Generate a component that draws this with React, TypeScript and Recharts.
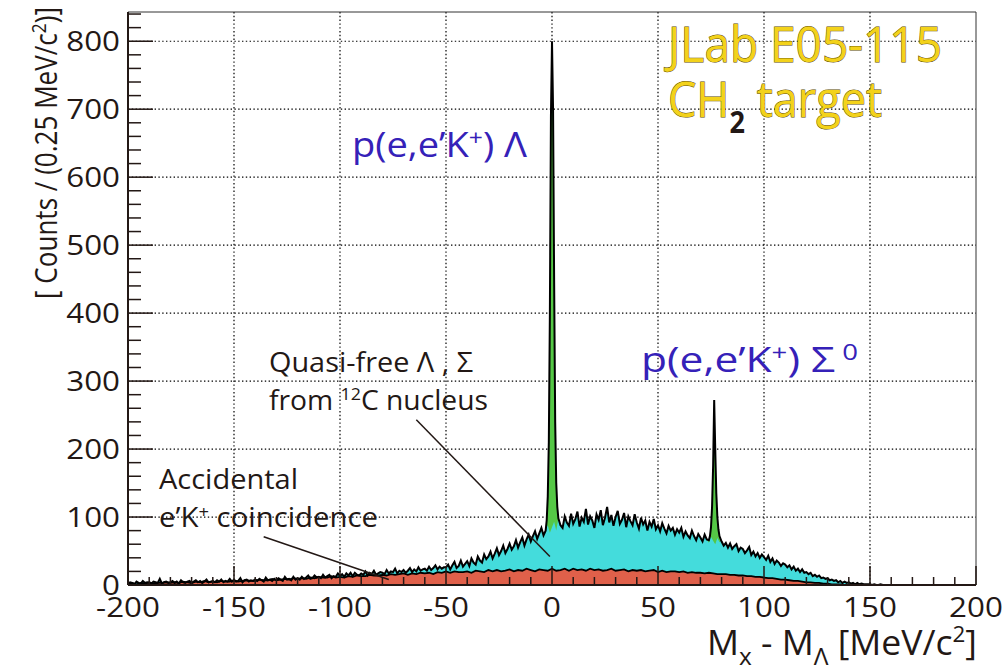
import { ComposedChart, Area, Line, XAxis, YAxis, CartesianGrid, ReferenceLine, ReferenceArea } from "recharts";

// missing-mass histogram, CH2 target
const BIN_START = -200;
const TOTAL_STEP = 1;
const ACC_STEP = 2;

// total counts outside the two hyperon peaks, -200 .. 160 in 1 MeV steps
const continuumCounts = [
  2, 4, 3, 1, 5, 3, 2, 6, 3, 4,
  3, 2, 5, 4, 3, 9, 2, 4, 5, 3,
  4, 6, 3, 5, 2, 7, 4, 3, 5, 6,
  3, 5, 7, 4, 6, 3, 5, 8, 4, 5,
  6, 4, 7, 5, 8, 4, 6, 5, 9, 5,
  7, 5, 6, 10, 4, 7, 8, 5, 7, 6,
  8, 6, 9, 7, 5, 11, 7, 8, 6, 9,
  7, 10, 8, 6, 12, 8, 9, 7, 12, 8,
  10, 8, 12, 9, 11, 14, 9, 10, 14, 11,
  12, 10, 15, 11, 13, 15, 10, 13, 12, 17,
  13, 16, 12, 17, 14, 18, 13, 18, 15, 14,
  17, 15, 20, 14, 18, 16, 21, 15, 17, 19,
  18, 16, 22, 17, 20, 19, 24, 17, 21, 19,
  22, 18, 21, 25, 19, 23, 20, 26, 21, 23,
  24, 21, 27, 22, 25, 29, 23, 27, 24, 26,
  26, 30, 23, 29, 34, 25, 28, 36, 27, 31,
  35, 28, 39, 33, 30, 42, 36, 33, 45, 38,
  42, 49, 39, 46, 54, 44, 50, 58, 47, 53,
  61, 52, 57, 66, 55, 63, 70, 58, 67, 74,
  64, 72, 79, 68, 76, 84, 73, 80, 88, 77,
  85, 93, 80, 98, 88, 84, 101, 92, 87, 105,
  90, 97, 108, 86, 99, 93, 112, 89, 101, 95,
  84, 104, 96, 110, 88, 99, 115, 92, 103, 87,
  100, 109, 90, 96, 106, 85, 101, 94, 88, 104,
  92, 83, 99, 89, 95, 80, 93, 86, 97, 82,
  88, 79, 91, 83, 76, 87, 80, 84, 74, 82,
  77, 84, 71, 79, 73, 69, 80, 72, 66, 75,
  70, 64, 74, 67, 62, 71, 65, 60, 69, 63,
  66, 58, 62, 55, 61, 53, 57, 60, 50, 55,
  53, 47, 51, 56, 44, 49, 42, 47, 40, 45,
  41, 37, 43, 34, 39, 31, 36, 33, 28, 32,
  30, 26, 29, 23, 27, 21, 24, 19, 23, 18,
  19, 16, 18, 13, 15, 12, 14, 10, 11, 9,
  10, 7, 8, 6, 7, 4, 6, 3, 5, 3,
  4, 2, 3, 1, 3, 1, 2, 1, 1, 1,
  1, 0, 1, 0, 0, 1, 0, 0, 0, 0, 0,
];

// accidental e'K+ coincidence, -200 .. 160 in 2 MeV steps
const accidentalCounts = [
  2, 3, 1, 3, 2, 4, 2, 3, 3, 4,
  3, 4, 3, 5, 4, 3, 5, 4, 6, 4,
  5, 4, 6, 5, 5, 7, 5, 6, 7, 6,
  6, 8, 7, 7, 9, 7, 8, 9, 8, 10,
  9, 10, 9, 11, 10, 12, 11, 11, 13, 11,
  12, 11, 13, 12, 14, 13, 13, 15, 14, 14,
  15, 14, 16, 15, 16, 17, 15, 17, 16, 18,
  17, 18, 16, 19, 18, 20, 18, 20, 19, 19,
  20, 18, 21, 20, 19, 22, 20, 22, 20, 21,
  23, 20, 22, 21, 24, 22, 20, 23, 22, 21,
  24, 21, 22, 24, 21, 24, 22, 23, 21, 24,
  22, 23, 21, 22, 24, 21, 22, 23, 20, 22,
  21, 22, 20, 21, 22, 19, 21, 19, 20, 20,
  19, 20, 18, 19, 18, 18, 17, 18, 17, 16,
  16, 16, 15, 15, 14, 14, 13, 13, 12, 12,
  11, 10, 10, 9, 8, 8, 7, 6, 6, 5,
  4, 4, 3, 3, 2, 2, 1, 1, 1, 0,
  0, 0, 0, 0, 0, 0, 0, 0, 0, 0, 0,
];

// p(e,e'K+)Lambda peak (total counts)
const lambdaX = [-3, -2.5, -2, -1.5, -1, -0.5, 0, 0.5, 1, 1.5, 2, 2.5, 3];
const lambdaCounts = [80, 95, 130, 210, 400, 690, 800, 700, 450, 240, 150, 115, 98];

// p(e,e'K+)Sigma0 peak (total counts)
const sigmaX = [74, 74.5, 75, 75.5, 76, 76.5, 77, 77.5, 78, 78.5, 79, 80];
const sigmaCounts = [66, 72, 85, 115, 175, 272, 200, 135, 100, 82, 72, 64];

const xTicks = [-200, -190, -180, -170, -160, -150, -140, -130, -120, -110, -100, -90, -80, -70, -60, -50, -40, -30, -20, -10, 0, 10, 20, 30, 40, 50, 60, 70, 80, 90, 100, 110, 120, 130, 140, 150, 160, 170, 180, 190, 200];
const yTicks = [0, 20, 40, 60, 80, 100, 120, 140, 160, 180, 200, 220, 240, 260, 280, 300, 320, 340, 360, 380, 400, 420, 440, 460, 480, 500, 520, 540, 560, 580, 600, 620, 640, 660, 680, 700, 720, 740, 760, 780, 800, 820, 840];
const xGrid = [-150, -100, -50, 0, 50, 100, 150];
const yGrid = [100, 200, 300, 400, 500, 600, 700, 800];

const X_DOMAIN = [-200, 200];
const Y_DOMAIN = [0, 843];

const FONT = "'Open Sans', 'Noto Sans', sans-serif";
const INK = "#231815";
const RED = "#e0604a";
const CYAN = "#44dcdc";
const GREEN = "#55c846";
const BLUE = "#3521b8";
const YELLOW = "#f3d21a";
const OUTLINE = "#5b4a00";

const continuumData = continuumCounts.map((y, i) => ({ x: BIN_START + i * TOTAL_STEP, y }));
const accidentalData = accidentalCounts.map((y, i) => ({ x: BIN_START + i * ACC_STEP, y }));
const peaks = [
  lambdaX.map((x, i) => ({ x, y: lambdaCounts[i] })),
  sigmaX.map((x, i) => ({ x, y: sigmaCounts[i] })),
];
const totalData = continuumData
  .filter((p) => !peaks.some((pk) => p.x >= pk[0].x && p.x <= pk[pk.length - 1].x))
  .concat(...peaks)
  .sort((a, b) => a.x - b.x);

const XTick = (props: any) => {
  const { x, y, payload } = props;
  const v = payload.value;
  const major = v % 50 === 0;
  return (
    <g>
      <line x1={x} x2={x} y1={y} y2={y - (major ? 19 : 8)} stroke={INK} strokeWidth={1.5} />
      {major && (
        <text transform={`translate(${x},${y + 32}) scale(1.12,1)`} textAnchor="middle" fontSize={28} fontFamily={FONT} fill={INK}>
          {v}
        </text>
      )}
    </g>
  );
};

const YTick = (props: any) => {
  const { x, y, payload } = props;
  const v = payload.value;
  const major = v % 100 === 0;
  return (
    <g>
      <line x1={x} x2={x + (major ? 25 : 13)} y1={y} y2={y} stroke={INK} strokeWidth={1.5} />
      {major && (
        <text transform={`translate(${x - 8},${y + 10}) scale(1.12,1)`} textAnchor="end" fontSize={28} fontFamily={FONT} fill={INK}>
          {v}
        </text>
      )}
    </g>
  );
};

const scaleOf = (axis: any, v: number, fallback: number) => {
  const s = axis?.scale;
  if (typeof s === "function") return s(v);
  if (s && typeof s.map === "function") return s.map(v);
  return fallback;
};

const Annotations = () => (
  <svg width={1008} height={671} style={{ position: "absolute", left: 0, top: 0, pointerEvents: "none" }} fontFamily={FONT}>
    <text transform="translate(57,153) rotate(-90) scale(1,1.14)" textAnchor="middle" fontSize={27} fill={INK} textLength={292} lengthAdjust="spacingAndGlyphs">
      [ Counts / (0.25 MeV/c<tspan fontSize={18} dy={-10}>2</tspan><tspan dy={10}>)]</tspan>
    </text>
    <text x={977} y={655} textAnchor="end" fontSize={35} fill={INK} textLength={270} lengthAdjust="spacingAndGlyphs">
      M<tspan fontSize={24} dy={10}>x</tspan><tspan dy={-10}> - M</tspan><tspan fontSize={24} dy={10}>Λ</tspan><tspan dy={-10}> [MeV/c</tspan><tspan fontSize={22} dy={-13}>2</tspan><tspan dy={13}>]</tspan>
    </text>

    <text x={668} y={62} fontSize={50} fill={YELLOW} stroke={OUTLINE} strokeWidth={1} paintOrder="stroke" textLength={274} lengthAdjust="spacingAndGlyphs">
      JLab E05-115
    </text>
    <text x={668} y={117} fontSize={50} fill={YELLOW} stroke={OUTLINE} strokeWidth={1} paintOrder="stroke" textLength={214} lengthAdjust="spacingAndGlyphs">
      CH<tspan fontSize={30} fontWeight="bold" fill={INK} stroke="none" dy={16}>2</tspan><tspan dy={-16}> target</tspan>
    </text>

    <text x={352} y={157} fontSize={34} fill={BLUE} textLength={175} lengthAdjust="spacingAndGlyphs">
      p(e,e’K<tspan fontSize={22} dy={-12}>+</tspan><tspan dy={12}>) Λ</tspan>
    </text>
    <text x={641} y={372} fontSize={34} fill={BLUE} textLength={217} lengthAdjust="spacingAndGlyphs">
      p(e,e’K<tspan fontSize={22} dy={-12}>+</tspan><tspan dy={12}>) Σ</tspan><tspan fontSize={22} dy={-12}> 0</tspan>
    </text>

    <text x={269} y={372} fontSize={27} fill={INK} textLength={204} lengthAdjust="spacingAndGlyphs">
      Quasi-free Λ , Σ
    </text>
    <text x={269} y={410} fontSize={27} fill={INK} textLength={219} lengthAdjust="spacingAndGlyphs">
      from <tspan fontSize={17} dy={-10}>12</tspan><tspan dy={10}>C nucleus</tspan>
    </text>
    <text x={159} y={489} fontSize={27} fill={INK} textLength={139} lengthAdjust="spacingAndGlyphs">
      Accidental
    </text>
    <text x={159} y={527} fontSize={27} fill={INK} textLength={219} lengthAdjust="spacingAndGlyphs">
      e’K<tspan fontSize={17} dy={-9}>+</tspan><tspan dy={9}> coincidence</tspan>
    </text>
  </svg>
);

export default function App() {
  return (
    <div style={{ position: "absolute", left: 0, top: 0, width: 1008, height: 671, background: "#fff" }}>
      <ComposedChart width={1008} height={671} margin={{ top: 12, right: 32, bottom: 46, left: 68 }}>
        <CartesianGrid
          stroke="#000"
          strokeWidth={1.2}
          strokeDasharray="1.4 2.4"
          verticalCoordinatesGenerator={(p: any) =>
            xGrid.map((v) => scaleOf(p.xAxis, v, p.offset.left + ((v + 200) / 400) * p.offset.width))
          }
          horizontalCoordinatesGenerator={(p: any) =>
            yGrid.map((v) => scaleOf(p.yAxis, v, p.offset.top + (1 - v / 843) * p.offset.height))
          }
        />
        <XAxis
          type="number"
          dataKey="x"
          domain={X_DOMAIN}
          ticks={xTicks}
          interval={0}
          allowDataOverflow
          height={40}
          tickSize={0}
          tickMargin={0}
          tickLine={false}
          axisLine={{ stroke: INK, strokeWidth: 2 }}
          tick={(props: any) => <XTick {...props} />}
        />
        <YAxis
          type="number"
          dataKey="y"
          domain={Y_DOMAIN}
          ticks={yTicks}
          interval={0}
          allowDataOverflow
          width={60}
          tickSize={0}
          tickMargin={0}
          tickLine={false}
          axisLine={{ stroke: INK, strokeWidth: 2 }}
          tick={(props: any) => <YTick {...props} />}
        />
        <Area data={totalData} dataKey="y" type="linear" fill={GREEN} fillOpacity={1} stroke="none" isAnimationActive={false} />
        <Area data={continuumData} dataKey="y" type="linear" fill={CYAN} fillOpacity={1} stroke="none" isAnimationActive={false} />
        <Line data={totalData} dataKey="y" type="linear" stroke="#000" strokeWidth={2} dot={false} isAnimationActive={false} />
        <Area data={accidentalData} dataKey="y" type="linear" fill={RED} fillOpacity={1} stroke="#000" strokeWidth={1.8} isAnimationActive={false} />
        <ReferenceLine segment={[{ x: -136, y: 71 }, { x: -77, y: 8 }]} stroke={INK} strokeWidth={1.5} />
        <ReferenceLine segment={[{ x: -64, y: 243 }, { x: -1, y: 42 }]} stroke={INK} strokeWidth={1.5} />
        <ReferenceArea x1={-200} x2={200} y1={0} y2={843} fill="none" stroke="#333" strokeWidth={1} />
      </ComposedChart>
      <Annotations />
    </div>
  );
}
